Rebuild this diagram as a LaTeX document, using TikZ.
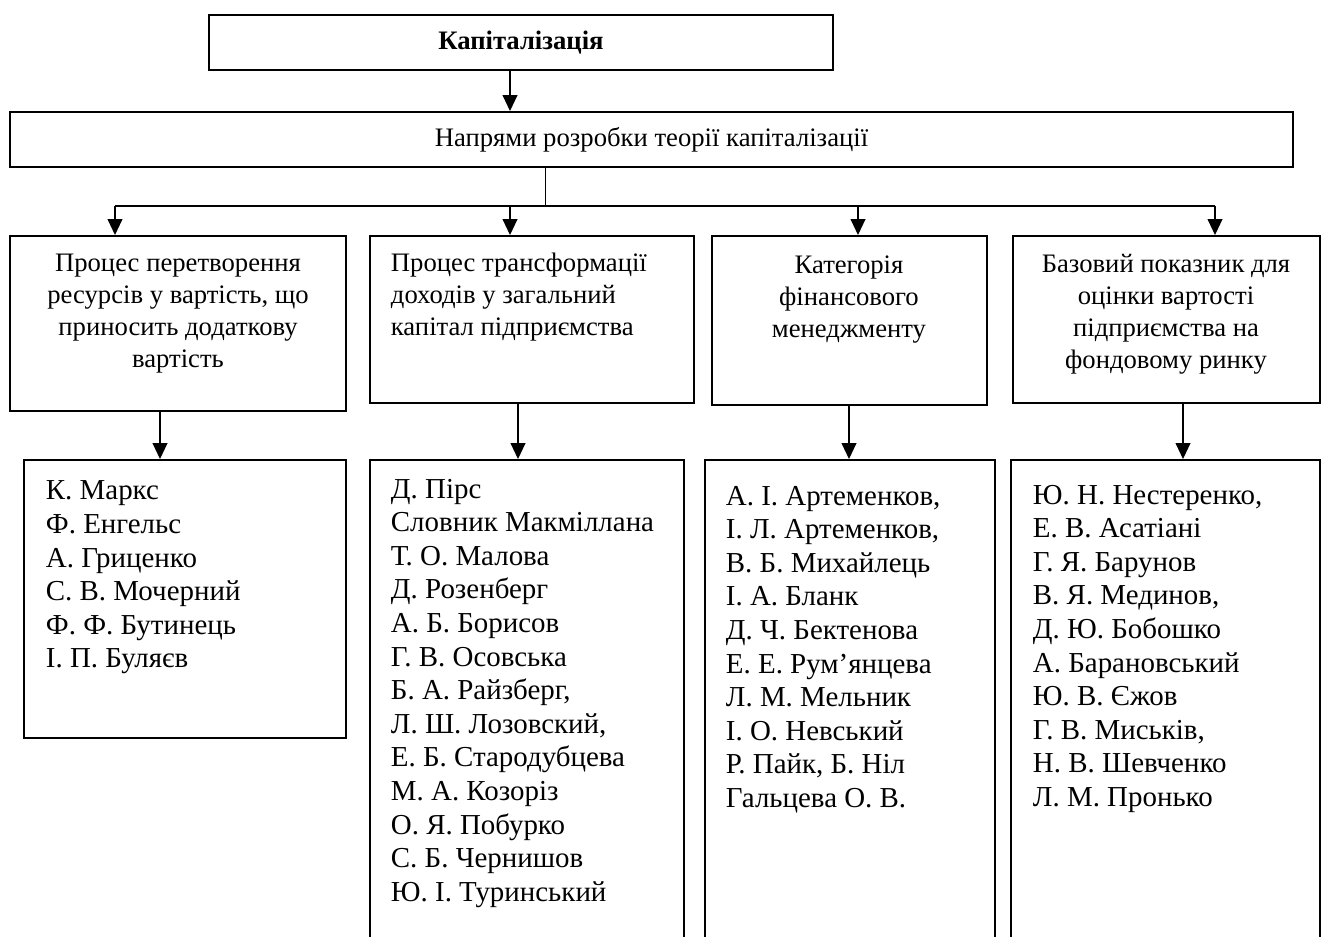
\documentclass[tikz,border=0pt]{standalone}
\usepackage{fontspec}
\setmainfont{Liberation Serif}
\usetikzlibrary{arrows.meta,fit}

\tikzset{every picture/.style={line width=1.4pt}}
\tikzset{
  boxnode/.style={draw, rectangle, inner sep=0pt},
  txtnode/.style={inner sep=0pt, font=\fontsize{20}{24}\selectfont},
  listnode/.style={inner sep=0pt, align=left, anchor=north west, font=\fontsize{21.7}{25.2}\selectfont},
  arr/.style={-{Triangle[length=12pt,width=11pt]}},
}

\begin{document}
\begin{tikzpicture}[x=0.75pt,y=0.75pt,yscale=-1,xscale=1]
\useasboundingbox (0,0) rectangle (1324,937);
% Top boxes
\node[boxnode, fit={(209,15) (833,70)}] (kap) {};
\node[txtnode, font=\fontsize{20}{24}\selectfont\bfseries] (kaptxt) at (kap.center) {Капіталізація};
\node[boxnode, fit={(10,112) (1293,167)}] (napr) {};
\node[txtnode] (naprtxt) at (napr.center) {Напрями розробки теорії капіталізації};
% Directions
\node[boxnode, fit={(10,236) (346,411)}] (procA) {};
\node[boxnode, fit={(370,236) (694,403)}] (procB) {};
\node[boxnode, fit={(712,236) (987,405)}] (procC) {};
\node[boxnode, fit={(1013,236) (1320,403)}] (procD) {};
\node[txtnode, align=center, anchor=north] (procAtxt) at (178,253)
  {Процес перетворення\\ресурсів у вартість, що\\приносить додаткову\\вартість};
\node[txtnode, align=left, anchor=north west] (procBtxt) at (390,252)
  {Процес трансформації\\доходів у загальний\\капітал підприємства};
\node[txtnode, align=center, anchor=north] (procCtxt) at (849,255)
  {Категорія\\фінансового\\менеджменту};
\node[txtnode, align=center, anchor=north] (procDtxt) at (1166,253)
  {Базовий показник для\\оцінки вартості\\підприємства на\\фондовому ринку};
% Authors
\node[boxnode, fit={(24,460) (346,738)}] (avtA) {};
\node[boxnode, fit={(370,460) (684,960)}] (avtB) {};
\node[boxnode, fit={(705,460) (995,960)}] (avtC) {};
\node[boxnode, fit={(1011,460) (1320,960)}] (avtD) {};
\node[listnode] (avtAtxt) at (45,480)
  {К. Маркс\\Ф. Енгельс\\А. Гриценко\\С. В. Мочерний\\Ф. Ф. Бутинець\\І. П. Буляєв};
\node[listnode] (avtBtxt) at (390,478)
  {Д. Пірс\\Словник Макміллана\\Т. О. Малова\\Д. Розенберг\\А. Б. Борисов\\Г. В. Осовська\\Б. А. Райзберг,\\Л. Ш. Лозовский,\\Е. Б. Стародубцева\\М. А. Козоріз\\О. Я. Побурко\\С. Б. Чернишов\\Ю. І. Туринський};
\node[listnode] (avtCtxt) at (725,485)
  {А. І. Артеменков,\\І. Л. Артеменков,\\В. Б. Михайлець\\І. А. Бланк\\Д. Ч. Бектенова\\Е. Е. Рум’янцева\\Л. М. Мельник\\І. О. Невський\\Р. Пайк, Б. Ніл\\Гальцева О. В.};
\node[listnode] (avtDtxt) at (1032,484)
  {Ю. Н. Нестеренко,\\Е. В. Асатіані\\Г. Я. Барунов\\В. Я. Мединов,\\Д. Ю. Бобошко\\А. Барановський\\Ю. В. Єжов\\Г. В. Миськів,\\Н. В. Шевченко\\Л. М. Пронько};
% Connectors
\coordinate (bus) at (545,206);
\coordinate (jA) at (115,206);
\coordinate (jB) at (510,206);
\coordinate (jC) at (858,206);
\coordinate (jD) at (1215,206);
\coordinate (dA) at (160,0);
\coordinate (dB) at (518,0);
\coordinate (dC) at (849,0);
\coordinate (dD) at (1183,0);
\draw[arr] (kap.south -| jB) -- (napr.north -| jB);
\draw[line width=0.75pt] (napr.south -| bus) -- (bus);
\draw (jA) -- (jD);
\foreach \j/\p in {jA/procA, jB/procB, jC/procC, jD/procD}
  \draw[arr] (\j) -- (\j |- \p.north);
\foreach \d/\p/\a in {dA/procA/avtA, dB/procB/avtB, dC/procC/avtC, dD/procD/avtD}
  \draw[arr] (\p.south -| \d) -- (\a.north -| \d);
\end{tikzpicture}
\end{document}
